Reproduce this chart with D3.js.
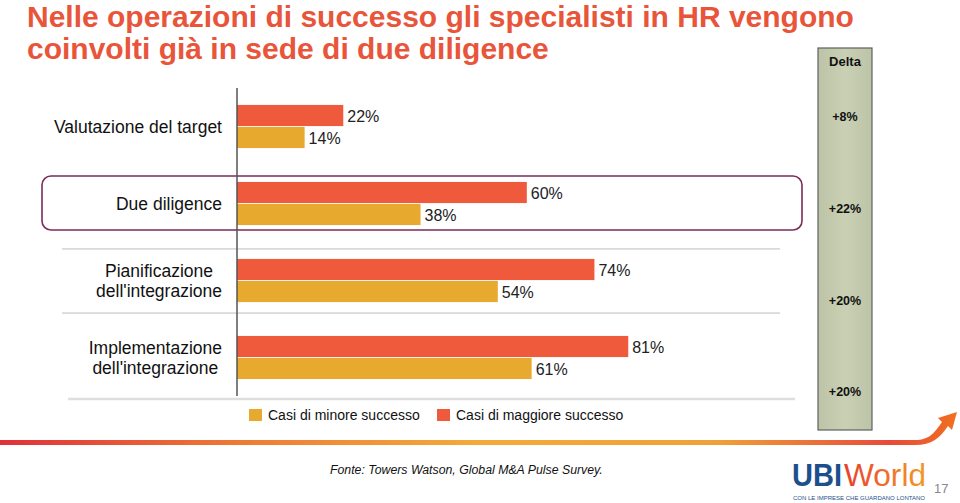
<!DOCTYPE html>
<html><head><meta charset="utf-8">
<script src="https://cdn.jsdelivr.net/npm/d3@7/dist/d3.min.js"></script>
<style>body{margin:0;background:#fff}svg{display:block;font-family:"Liberation Sans",Arial,Helvetica,sans-serif}</style>
</head><body><svg id="c" width="960" height="503"></svg>
<script>
const titleLines = ["Nelle operazioni di successo gli specialisti in HR vengono", "coinvolti già in sede di due diligence"];
const categories = ["Valutazione del target", "Due diligence", "Pianificazione\ndell'integrazione", "Implementazione\ndell'integrazione"];
const seriesNames = ["Casi di maggiore successo", "Casi di minore successo"];
const maggiore = [22, 60, 74, 81];
const minore = [14, 38, 54, 61];
const deltaLabels = ["+8%", "+22%", "+20%", "+20%"];
const deltaHeader = "Delta";
const source = "Fonte: Towers Watson, Global M&A Pulse Survey.";
const pageNumber = "17";

const colors = {"Casi di maggiore successo": "#ee5a3b", "Casi di minore successo": "#e8aa2e"};
const svg = d3.select("#c");
const defs = svg.append("defs");

// Title
const title = svg.append("text").attr("fill", "#e8553a").attr("font-weight", "bold").attr("font-size", 30);
titleLines.forEach((t, i) => title.append("tspan").attr("x", 27).attr("y", 27 + i * 32).text(t));

// Scales
const x = d3.scaleLinear().domain([0, 100]).range([237, 720]);
const y = d3.scaleBand().domain(categories).range([88, 396]).paddingInner(0.44).paddingOuter(0.22);
const ySub = d3.scaleBand().domain(seriesNames).range([0, y.bandwidth()]).paddingInner(0.04);
const yDelta = d3.scalePoint().domain(categories).range([117, 392]);

const rows = categories.map((c, i) => ({cat: c, vals: [
  {s: seriesNames[0], v: maggiore[i]}, {s: seriesNames[1], v: minore[i]}]}));

// Highlight box around Due diligence
svg.append("rect").attr("x", 42).attr("y", y(categories[1]) - 6).attr("width", 760)
  .attr("height", y.bandwidth() + 11).attr("rx", 9)
  .attr("fill", "none").attr("stroke", "#7d2b58").attr("stroke-width", 1.6);

// Separator lines
const seps = [y(categories[2]) - 10, y(categories[2]) + y.bandwidth() + 11];
svg.selectAll("line.sep").data(seps).join("line").attr("class", "sep")
  .attr("x1", 62).attr("x2", 780).attr("y1", d => d).attr("y2", d => d)
  .attr("stroke", "#bdbdbd").attr("stroke-width", 1);
svg.append("line").attr("x1", 68).attr("x2", 795).attr("y1", 399).attr("y2", 399)
  .attr("stroke", "#dedede").attr("stroke-width", 2.5);

// Bars
const g = svg.selectAll("g.row").data(rows).join("g").attr("class", "row")
  .attr("transform", d => `translate(0,${y(d.cat)})`);
g.selectAll("rect").data(d => d.vals).join("rect")
  .attr("x", x(0)).attr("y", d => ySub(d.s)).attr("width", d => x(d.v) - x(0))
  .attr("height", ySub.bandwidth()).attr("fill", d => colors[d.s]);
g.selectAll("text.val").data(d => d.vals).join("text").attr("class", "val")
  .attr("x", d => x(d.v) + 4).attr("y", d => ySub(d.s) + ySub.bandwidth() / 2 + 1)
  .attr("dy", "0.35em").attr("font-size", 16).attr("fill", "#222").text(d => d.v + "%");

// Axis line
const yAxis = d3.axisLeft(y).tickSize(0).tickFormat("");
const ax = svg.append("g").attr("transform", `translate(${x(0)},0)`).call(yAxis);
ax.select(".domain").attr("d", "M0,88V396").attr("stroke", "#555").attr("stroke-width", 1.5);

// Category labels
const labelRight = 222;
rows.forEach(r => {
  const lines = r.cat.split("\n");
  const cy = y(r.cat) + y.bandwidth() / 2;
  const t = svg.append("text").attr("font-size", 17.5).attr("fill", "#111");
  const lh = 20;
  const spans = lines.map((l, i) => t.append("tspan").attr("x", 0)
    .attr("y", cy + (i - (lines.length - 1) / 2) * lh).attr("dy", "0.35em").text(l));
  const widths = spans.map(s => s.node().getComputedTextLength());
  const maxW = d3.max(widths);
  spans.forEach(s => s.attr("text-anchor", "middle").attr("x", labelRight - maxW / 2));
});

// Delta column
const dg = defs.append("linearGradient").attr("id", "dlt").attr("x1", 0).attr("x2", 1);
dg.append("stop").attr("offset", 0).attr("stop-color", "#bcc3a6");
dg.append("stop").attr("offset", 0.5).attr("stop-color", "#c9d0b4");
dg.append("stop").attr("offset", 1).attr("stop-color", "#bcc3a6");
svg.append("rect").attr("x", 818).attr("y", 48).attr("width", 54).attr("height", 382)
  .attr("fill", "url(#dlt)").attr("stroke", "#5f5f5f").attr("stroke-width", 1.2);
svg.append("text").attr("x", 845).attr("y", 66).attr("text-anchor", "middle")
  .attr("font-size", 13).attr("font-weight", "bold").attr("fill", "#111").text(deltaHeader);
svg.selectAll("text.delta").data(categories).join("text").attr("class", "delta")
  .attr("x", 845).attr("y", d => yDelta(d)).attr("dy", "0.35em").attr("text-anchor", "middle")
  .attr("font-size", 12.5).attr("font-weight", "bold").attr("fill", "#111")
  .text((d, i) => deltaLabels[i]);

// Legend
const legendItems = [seriesNames[1], seriesNames[0]];
const legX = [249, 437];
legendItems.forEach((s, i) => {
  svg.append("rect").attr("x", legX[i]).attr("y", 409).attr("width", 13).attr("height", 12).attr("fill", colors[s]);
  svg.append("text").attr("x", legX[i] + 19).attr("y", 420).attr("font-size", 14).attr("fill", "#111").text(s);
});

// Bottom swoosh
const sg = defs.append("linearGradient").attr("id", "sw").attr("x1", 0).attr("x2", 1);
[[0, "#e0303a"], [0.25, "#ee7a35"], [0.5, "#f4aa3a"], [0.75, "#f0a038"], [0.93, "#e8493a"], [1, "#f07020"]]
  .forEach(([o, c]) => sg.append("stop").attr("offset", o).attr("stop-color", c));
svg.append("path").attr("d", "M0,440 L915,440 C930,440 935,432 942,422 L938,418 L957,412 L952,430 L948,426 C940,438 932,445 915,445 L0,445 Z")
  .attr("fill", "url(#sw)");

// Footer
svg.append("text").attr("x", 330).attr("y", 474).attr("font-size", 12.3).attr("font-style", "italic")
  .attr("fill", "#111").text(source);
svg.append("text").attr("x", 792).attr("y", 486).attr("font-size", 32).attr("font-weight", "bold")
  .attr("fill", "#1d4f8c").attr("textLength", 50).attr("lengthAdjust", "spacingAndGlyphs").text("UBI");
const wg = defs.append("linearGradient").attr("id", "wg").attr("x1", 0).attr("x2", 1);
wg.append("stop").attr("offset", 0).attr("stop-color", "#e8402e");
wg.append("stop").attr("offset", 1).attr("stop-color", "#f39a2a");
svg.append("text").attr("x", 844).attr("y", 486).attr("font-size", 31)
  .attr("fill", "url(#wg)").attr("textLength", 82).attr("lengthAdjust", "spacingAndGlyphs").text("World");
svg.append("text").attr("x", 793).attr("y", 500).attr("font-size", 6).attr("fill", "#1d4f8c")
  .attr("textLength", 132).attr("lengthAdjust", "spacingAndGlyphs").text("CON LE IMPRESE CHE GUARDANO LONTANO");
svg.append("text").attr("x", 934).attr("y", 493).attr("font-size", 13).attr("fill", "#888").text(pageNumber);
</script></body></html>
